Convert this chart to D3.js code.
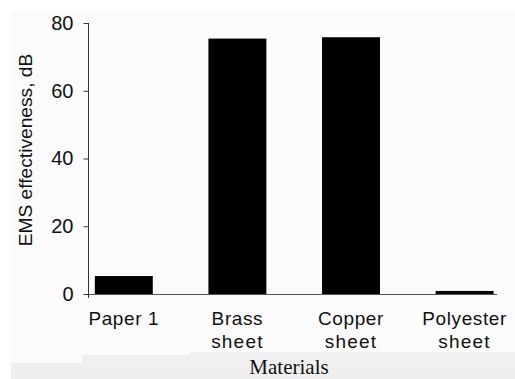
<!DOCTYPE html>
<html>
<head>
<meta charset="utf-8">
<script src="https://cdn.jsdelivr.net/npm/d3@7"></script>
<style>
  html, body { margin: 0; padding: 0; background: #ffffff; }
  svg { display: block; }
</style>
</head>
<body>
<svg id="chart" width="515" height="379"></svg>
<script>
// ---- data ----
const categories = ["Paper 1", "Brass sheet", "Copper sheet", "Polyester sheet"];
const categoryLines = [["Paper 1"], ["Brass", "sheet"], ["Copper", "sheet"], ["Polyester", "sheet"]];
const emsValues = [5.3, 75.4, 75.8, 0.9];
const yTicks = [0, 20, 40, 60, 80];
const yLabel = "EMS effectiveness, dB";
const xLabel = "Materials";

const svg = d3.select("#chart");

// scanned-page background tones
svg.append("rect").attr("x", 11).attr("y", 11).attr("width", 504).attr("height", 368).attr("fill", "#fbfbfb");
svg.append("rect").attr("x", 82).attr("y", 355).attr("width", 110).attr("height", 8).attr("fill", "#f0f0f0");
svg.append("rect").attr("x", 11).attr("y", 363).attr("width", 504).attr("height", 16).attr("fill", "#efefef");
svg.append("rect").attr("x", 190).attr("y", 352).attr("width", 325).attr("height", 12).attr("fill", "#f1f1f1");

const x = d3.scaleBand()
  .domain(categories)
  .range([67, 521.4])
  .paddingInner(0.49)
  .paddingOuter(0.245);

const y = d3.scaleLinear().domain([0, 80]).range([294, 23]);

const font = "'Liberation Sans', Arial, sans-serif";

// bars
svg.append("g").selectAll("rect")
  .data(emsValues)
  .join("rect")
  .attr("x", (d, i) => x(categories[i]))
  .attr("width", x.bandwidth())
  .attr("y", d => y(d))
  .attr("height", d => y(0) - y(d))
  .attr("fill", "#000");

// x baseline
svg.append("line")
  .attr("x1", 88).attr("x2", 497)
  .attr("y1", y(0) + 0.5).attr("y2", y(0) + 0.5)
  .attr("stroke", "#555").attr("stroke-width", 1);

// y axis
const yAxis = d3.axisLeft(y).tickValues(yTicks).tickSize(5).tickPadding(10).tickFormat(d3.format("d"));
const gy = svg.append("g").attr("transform", "translate(88.5,0)").call(yAxis);
gy.select(".domain").remove();
gy.append("line").attr("x1", 0).attr("x2", 0).attr("y1", y(80)).attr("y2", 298).attr("stroke", "#333");
gy.selectAll(".tick line").attr("stroke", "#333");
gy.selectAll(".tick text")
  .attr("font-family", font).attr("font-size", 20).attr("fill", "#111");

// category labels
const labels = svg.append("g");
categoryLines.forEach((lines, i) => {
  const cx = x(categories[i]) + x.bandwidth() / 2;
  const t = labels.append("text")
    .attr("x", cx).attr("y", 325)
    .attr("text-anchor", "middle")
    .attr("font-family", font).attr("font-size", 19)
    .attr("fill", "#111");
  lines.forEach((ln, j) => {
    t.append("tspan").attr("x", cx).attr("dy", j === 0 ? 0 : 23)
      .attr("letter-spacing", ln === "sheet" ? 1.2 : 0.6)
      .text(ln);
  });
});

// y-axis title
svg.append("text")
  .attr("transform", "translate(32,150) rotate(-90)")
  .attr("text-anchor", "middle")
  .attr("font-family", font).attr("font-size", 19.2)
  .attr("fill", "#111")
  .text(yLabel);

// x-axis title
svg.append("text")
  .attr("x", 289).attr("y", 374)
  .attr("text-anchor", "middle")
  .attr("font-family", "'Liberation Serif', 'Times New Roman', serif")
  .attr("font-size", 21)
  .attr("fill", "#111")
  .text(xLabel);
</script>
</body>
</html>
